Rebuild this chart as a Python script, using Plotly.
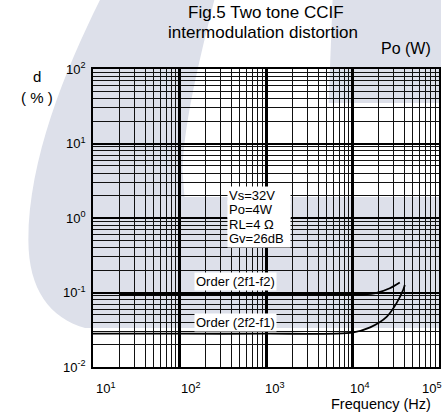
import plotly.graph_objects as go

# ---- data ----
FREQ_2F1_F2 = [20, 100, 1000, 10000, 13400, 19000, 27000, 35200]
D_2F1_F2 = [0.093, 0.093, 0.093, 0.093, 0.094, 0.099, 0.114, 0.136]
FREQ_2F2_F1 = [10, 100, 1000, 10000, 16000, 24800, 32300, 38500, 40200]
D_2F2_F1 = [0.028, 0.028, 0.028, 0.029, 0.034, 0.047, 0.072, 0.108, 0.126]
X_TICK_VALUES = [10, 100, 1000, 10000, 100000]
X_TICK_LABELS = ["10<sup>1</sup>", "10<sup>2</sup>", "10<sup>3</sup>", "10<sup>4</sup>", "10<sup>5</sup>"]
Y_TICK_VALUES = [0.01, 0.1, 1, 10, 100]
Y_TICK_LABELS = ["10<sup>-2</sup>", "10<sup>-1</sup>", "10<sup>0</sup>", "10<sup>1</sup>", "10<sup>2</sup>"]
CONDITIONS = ["Vs=32V", "Po=4W", "RL=4 Ω", "Gv=26dB"]

W, H = 443, 415
L, R, T, B = 93, 2, 69, 48
PW, PH = W - L - R, H - T - B
FONT = "Liberation Sans, Arial, sans-serif"
WM = "#dde0ea"


def px(x, y):
    return (x - L) / PW, 1 - (y - T) / PH


def path(pts):
    out = []
    for p in pts:
        if isinstance(p, str):
            out.append(p)
        else:
            a, b = px(*p)
            out.append(f"{a:.4f},{b:.4f}")
    return " ".join(out)


fig = go.Figure()
fig.add_trace(go.Scatter(x=FREQ_2F1_F2, y=D_2F1_F2, mode="lines",
                         line=dict(color="black", width=1.8, shape="spline", smoothing=0.8),
                         showlegend=False, hoverinfo="skip"))
fig.add_trace(go.Scatter(x=FREQ_2F2_F1, y=D_2F2_F1, mode="lines",
                         line=dict(color="black", width=1.8, shape="spline", smoothing=0.8),
                         showlegend=False, hoverinfo="skip"))

shapes = [
    dict(type="path", xref="paper", yref="paper", layer="below", line=dict(width=0), fillcolor=WM,
         path="M " + path([(100, 0), "L", (215, 0), "C", (200, 60), (185, 120), (183, 170), "L",
                           (185, 197), "L", (443, 197), "L", (443, 328), "L", (85, 328), "C",
                           (50, 318), (28, 290), (28, 240), "C", (28, 160), (65, 70), (100, 0)]) + " Z"),
    dict(type="path", xref="paper", yref="paper", layer="below", line=dict(width=0), fillcolor=WM,
         path="M " + path([(334, 0), "L", (443, 0), "L", (443, 103), "L", (330, 103)]) + " Z"),
]

ann = []
ann.append(dict(text="Fig.5 Two tone CCIF", x=px(267, 0)[0], y=px(0, 12)[1], font=dict(size=17)))
ann.append(dict(text="intermodulation distortion", x=px(264, 0)[0], y=px(0, 33)[1], font=dict(size=17)))
ann.append(dict(text="Po (W)", x=px(408, 0)[0], y=px(0, 48)[1], font=dict(size=16)))
ann.append(dict(text="d", x=px(37, 0)[0], y=px(0, 76)[1], font=dict(size=15)))
ann.append(dict(text="( % )", x=px(37, 0)[0], y=px(0, 97)[1], font=dict(size=15)))
ann.append(dict(text="Frequency (Hz)", x=px(383, 0)[0], y=px(0, 404)[1], font=dict(size=14.5)))
label_cx = [106, 192, 276, 362, 434]
for t, cx in zip(X_TICK_LABELS, label_cx):
    ann.append(dict(text=t, x=px(cx, 0)[0], y=px(0, 388)[1], font=dict(size=13)))
for t, cy in zip(CONDITIONS, [195, 209.5, 224, 238.5]):
    ann.append(dict(text=t, x=px(228, 0)[0], y=px(0, cy)[1], xanchor="left", align="left",
                    width=60, bgcolor="white", borderpad=1, font=dict(size=13)))
ann.append(dict(text="Order (2f1-f2)", x=px(236, 0)[0], y=px(0, 281)[1], bgcolor="white",
                borderpad=1, font=dict(size=13)))
ann.append(dict(text="Order (2f2-f1)", x=px(236, 0)[0], y=px(0, 322)[1], bgcolor="white",
                borderpad=1, font=dict(size=13)))
for a in ann:
    a.update(xref="paper", yref="paper", showarrow=False)
    a.setdefault("xanchor", "center")
    a.setdefault("yanchor", "middle")
    a["font"].update(color="black", family=FONT)

fig.update_layout(
    width=W, height=H, margin=dict(l=L, r=R, t=T, b=B),
    paper_bgcolor="white", plot_bgcolor="rgba(0,0,0,0)",
    font=dict(family=FONT, color="black", size=13),
    shapes=shapes, annotations=ann, showlegend=False, hovermode=False,
)
fig.update_xaxes(type="log", range=[1, 5], tickvals=X_TICK_VALUES, ticktext=[""] * 5,
                 showgrid=True, gridcolor="black", gridwidth=2.6,
                 minor=dict(showgrid=True, gridcolor="#111", gridwidth=1.4, dtick="D1"),
                 showline=True, mirror=True, linecolor="black", linewidth=1.5, zeroline=False)
fig.update_yaxes(type="log", range=[-2, 2], tickvals=Y_TICK_VALUES, ticktext=Y_TICK_LABELS,
                 tickfont=dict(size=13, family=FONT, color="black"), ticklabelstandoff=3,
                 showgrid=True, gridcolor="black", gridwidth=2,
                 minor=dict(showgrid=True, gridcolor="#111", gridwidth=1.3, dtick="D1"),
                 showline=True, mirror=True, linecolor="black", linewidth=1.5, zeroline=False)

fig.write_html("out.html", config={"displayModeBar": False},
               post_script="document.body.style.margin='0px';document.body.style.overflow='hidden';")
